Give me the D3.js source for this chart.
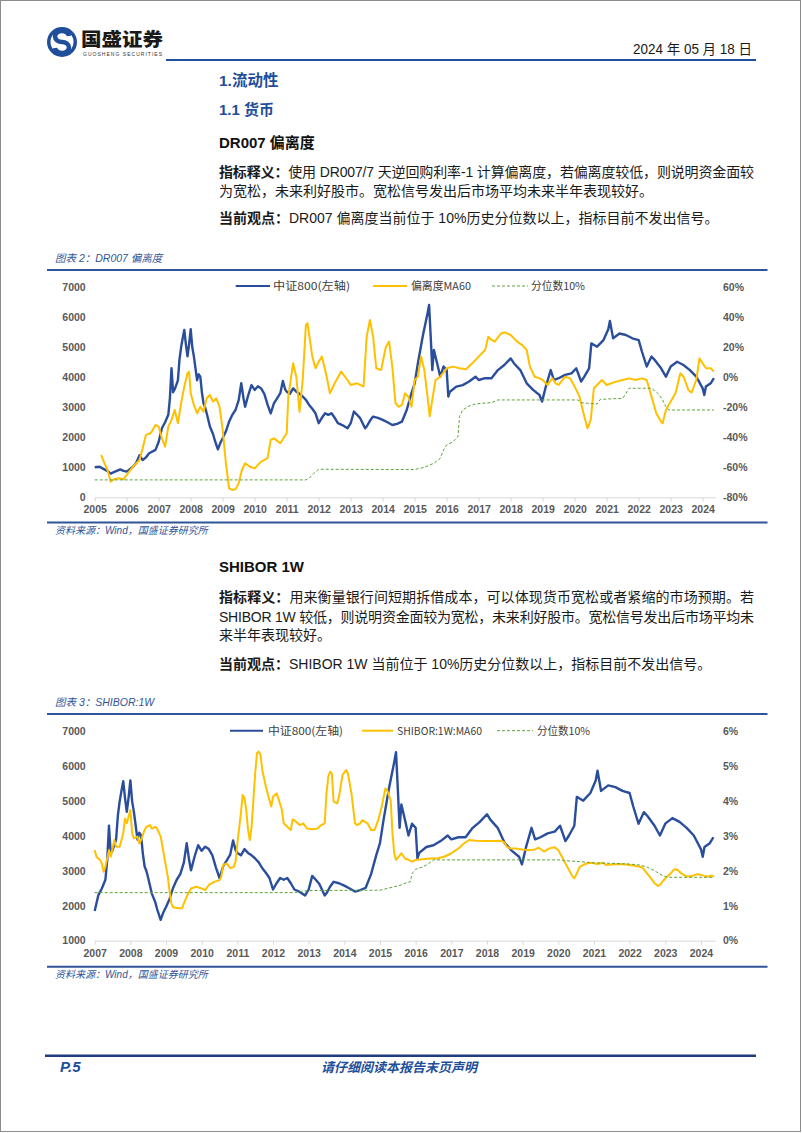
<!DOCTYPE html>
<html>
<head>
<meta charset="utf-8">
<script src="https://cdn.jsdelivr.net/npm/d3@7"></script>
<style>
body { margin: 0; background: #fff; }
svg { display: block; }
</style>
</head>
<body>
<div id="page"></div>
<script>
// 中证800, [year, index]
var csi800 = [[2005.0,1000],[2005.15,1020],[2005.3,930],[2005.42,860],[2005.5,790],[2005.6,840],[2005.8,930],[2005.9,880],[2006.0,855],[2006.2,1020],[2006.3,1150],[2006.4,1400],[2006.5,1240],[2006.6,1330],[2006.7,1470],[2006.9,1580],[2007.0,1850],[2007.1,2300],[2007.2,2500],[2007.3,2750],[2007.35,3300],[2007.4,4300],[2007.45,3500],[2007.5,3600],[2007.6,3900],[2007.65,4600],[2007.7,5000],[2007.75,5300],[2007.8,5580],[2007.85,5100],[2007.9,4700],[2007.95,5100],[2008.0,5600],[2008.05,5000],[2008.1,4690],[2008.15,4300],[2008.2,3900],[2008.25,4100],[2008.3,4020],[2008.35,3500],[2008.4,3130],[2008.45,3000],[2008.5,2800],[2008.6,2360],[2008.7,2100],[2008.75,1910],[2008.85,1600],[2008.92,1800],[2009.0,1970],[2009.1,2200],[2009.2,2520],[2009.3,2750],[2009.4,2910],[2009.5,3240],[2009.58,3800],[2009.65,3300],[2009.7,3020],[2009.8,3410],[2009.9,3740],[2010.0,3580],[2010.1,3700],[2010.2,3630],[2010.3,3450],[2010.4,3100],[2010.5,2800],[2010.6,3130],[2010.7,3300],[2010.8,3470],[2010.88,3880],[2010.95,3600],[2011.0,3520],[2011.1,3450],[2011.2,3630],[2011.3,3520],[2011.4,3450],[2011.5,3360],[2011.6,3250],[2011.7,3080],[2011.8,2950],[2011.9,2800],[2012.0,2470],[2012.1,2650],[2012.2,2800],[2012.3,2750],[2012.4,2800],[2012.5,2650],[2012.6,2470],[2012.75,2400],[2012.9,2300],[2013.0,2470],[2013.1,2860],[2013.2,2750],[2013.3,2630],[2013.45,2300],[2013.5,2360],[2013.6,2550],[2013.7,2690],[2013.85,2650],[2014.0,2580],[2014.15,2500],[2014.3,2410],[2014.45,2450],[2014.6,2520],[2014.75,2910],[2014.9,3470],[2015.0,3800],[2015.1,4470],[2015.25,5360],[2015.4,6130],[2015.45,6410],[2015.5,5360],[2015.55,4240],[2015.6,4910],[2015.7,4470],[2015.8,4020],[2015.9,4360],[2016.0,4240],[2016.05,3360],[2016.1,3520],[2016.3,3690],[2016.5,3740],[2016.7,3860],[2016.9,4020],[2017.0,3910],[2017.2,3970],[2017.4,3970],[2017.6,4240],[2017.8,4410],[2018.0,4630],[2018.1,4470],[2018.3,4240],[2018.5,3800],[2018.7,3580],[2018.9,3410],[2018.98,3190],[2019.1,3700],[2019.25,4240],[2019.35,3910],[2019.5,3970],[2019.7,4080],[2019.9,4130],[2020.05,4300],[2020.2,3860],[2020.3,4020],[2020.45,4300],[2020.52,5130],[2020.7,5020],[2020.9,5240],[2021.05,5600],[2021.1,5880],[2021.2,5300],[2021.4,5460],[2021.6,5410],[2021.8,5300],[2022.0,5240],[2022.1,4860],[2022.25,4360],[2022.4,4690],[2022.5,4580],[2022.7,4300],[2022.85,4020],[2023.0,4360],[2023.2,4520],[2023.4,4410],[2023.6,4240],[2023.8,4020],[2024.0,3630],[2024.05,3410],[2024.1,3690],[2024.25,3800],[2024.35,3970]]

// DR007 偏离度MA60, [year, %]
var devMA60 = [[2005.2,-51.8],[2005.3,-57],[2005.4,-61.8],[2005.5,-69.6],[2005.6,-68],[2005.75,-67.3],[2005.9,-68],[2006.0,-65.1],[2006.2,-59.6],[2006.4,-55.1],[2006.5,-47.3],[2006.6,-38.4],[2006.75,-37.3],[2006.9,-31.8],[2007.0,-32.9],[2007.1,-40.7],[2007.2,-46.2],[2007.3,-32.9],[2007.4,-28.4],[2007.5,-21.8],[2007.6,-30.7],[2007.7,-17.3],[2007.8,-6.2],[2007.9,2.7],[2007.95,3.8],[2008.0,-10.7],[2008.1,-18.4],[2008.2,-24],[2008.3,-19.6],[2008.4,-22.9],[2008.5,-14],[2008.6,-11.8],[2008.7,-16.2],[2008.8,-14],[2008.9,-19.6],[2009.0,-35.1],[2009.1,-57.3],[2009.2,-74],[2009.3,-75.1],[2009.4,-74.7],[2009.5,-70.7],[2009.6,-61.8],[2009.7,-57.3],[2009.85,-59.6],[2010.0,-60.7],[2010.2,-56.2],[2010.4,-54],[2010.5,-41.8],[2010.6,-40.7],[2010.8,-44],[2011.0,-37.3],[2011.05,-12.9],[2011.2,9.3],[2011.3,0.4],[2011.4,-22.9],[2011.5,-1.8],[2011.6,34.9],[2011.65,36],[2011.8,13.8],[2011.9,6],[2012.0,10.4],[2012.1,13.8],[2012.25,0.4],[2012.35,-10.7],[2012.5,-4],[2012.7,3.8],[2012.9,-1.8],[2013.0,-5.1],[2013.2,-4],[2013.4,-6.2],[2013.5,27.1],[2013.6,38.2],[2013.7,27.1],[2013.8,6],[2013.95,4.9],[2014.1,20.4],[2014.2,23.8],[2014.3,7.1],[2014.4,-17.3],[2014.5,-19.6],[2014.6,-18.4],[2014.7,-10.7],[2014.8,-12.9],[2014.9,-19.6],[2015.0,-1.8],[2015.1,0.4],[2015.2,13.8],[2015.3,4.9],[2015.4,-12.9],[2015.47,-26],[2015.55,-15.1],[2015.65,-1.8],[2015.8,0.4],[2016.0,6],[2016.2,7.1],[2016.4,6],[2016.6,5.3],[2016.8,9.3],[2017.0,13.8],[2017.2,18.2],[2017.3,27.1],[2017.4,24.9],[2017.5,23.8],[2017.7,29.3],[2017.8,30],[2018.0,28.2],[2018.2,23.8],[2018.35,21.6],[2018.5,18.2],[2018.6,7.1],[2018.75,0.4],[2018.9,-0.7],[2019.0,-1.8],[2019.15,-5.1],[2019.3,-0.7],[2019.4,-4],[2019.5,-5.1],[2019.7,0.4],[2019.85,-0.7],[2020.0,-6.2],[2020.15,-12.9],[2020.3,-26.2],[2020.4,-34],[2020.5,-28.4],[2020.6,-7.3],[2020.7,-5.1],[2020.85,-1.8],[2021.0,-5.1],[2021.15,-4],[2021.3,-2.9],[2021.5,-1.8],[2021.7,-0.7],[2021.9,-1.8],[2022.1,-0.7],[2022.25,-1.8],[2022.4,-12.9],[2022.55,-24],[2022.7,-29.6],[2022.75,-30.7],[2022.85,-21.8],[2023.0,-16.2],[2023.15,-10.7],[2023.3,2.7],[2023.4,0.4],[2023.55,-8.4],[2023.65,-10.2],[2023.8,-1.8],[2023.9,12.7],[2024.0,9.3],[2024.1,6],[2024.25,6],[2024.35,3.8]]

// 分位数10% (DR007 chart)
var devQ10 = [[2005.0,-68.4],[2011.6,-68.4],[2011.7,-67.3],[2011.85,-64],[2012.0,-61.3],[2015.0,-61.5],[2015.3,-60],[2015.6,-57.3],[2015.8,-54],[2015.9,-48.4],[2016.0,-45.1],[2016.2,-42.9],[2016.35,-39.6],[2016.4,-26.2],[2016.5,-21.8],[2016.7,-19.1],[2016.9,-17.8],[2017.1,-17.3],[2017.4,-16.9],[2017.6,-15.1],[2020.1,-15.1],[2020.2,-16.9],[2020.4,-17.3],[2020.7,-17.8],[2020.8,-14.7],[2021.5,-14],[2021.6,-10.7],[2021.7,-7.3],[2022.4,-7.3],[2022.6,-10.7],[2022.75,-15.1],[2022.85,-19.6],[2022.95,-21.8],[2024.35,-21.8]]

// SHIBOR:1W:MA60, [year, %]
var shiborMA60 = [[2007.0,2.6],[2007.05,2.41],[2007.15,2.32],[2007.2,2.22],[2007.25,1.98],[2007.3,2.12],[2007.4,2.6],[2007.45,2.41],[2007.55,2.89],[2007.6,2.7],[2007.7,2.7],[2007.8,3.08],[2007.85,3.51],[2007.9,3.37],[2008.0,3.75],[2008.05,3.08],[2008.1,2.94],[2008.2,2.99],[2008.25,2.79],[2008.3,2.89],[2008.4,3.18],[2008.45,3.27],[2008.55,3.32],[2008.6,3.22],[2008.7,3.27],[2008.75,3.22],[2008.85,2.99],[2008.95,2.41],[2009.05,1.84],[2009.1,1.41],[2009.15,1.07],[2009.2,0.96],[2009.35,0.93],[2009.45,0.93],[2009.5,1.07],[2009.6,1.31],[2009.7,1.5],[2009.85,1.55],[2010.0,1.5],[2010.1,1.45],[2010.2,1.6],[2010.35,1.69],[2010.5,1.74],[2010.55,1.84],[2010.6,2.17],[2010.7,2.22],[2010.8,2.08],[2010.9,2.12],[2010.95,2.27],[2011.0,2.79],[2011.1,3.66],[2011.15,4.18],[2011.2,4.09],[2011.25,3.75],[2011.3,3.18],[2011.35,2.89],[2011.4,3.27],[2011.45,4.04],[2011.5,4.8],[2011.55,5.38],[2011.6,5.43],[2011.65,5.33],[2011.7,4.9],[2011.8,4.42],[2011.9,4.04],[2011.95,3.85],[2012.0,4.13],[2012.1,4.23],[2012.15,4.09],[2012.25,3.75],[2012.3,3.37],[2012.4,3.27],[2012.5,3.18],[2012.55,3.48],[2012.6,3.46],[2012.75,3.32],[2012.85,3.37],[2012.95,3.22],[2013.1,3.2],[2013.25,3.22],[2013.35,3.32],[2013.45,3.37],[2013.5,4.23],[2013.55,4.71],[2013.6,4.85],[2013.65,4.8],[2013.7,3.99],[2013.8,3.94],[2013.85,4.13],[2013.95,4.76],[2014.05,4.9],[2014.1,4.8],[2014.2,4.23],[2014.3,3.37],[2014.35,3.32],[2014.45,3.37],[2014.5,3.46],[2014.65,3.37],[2014.75,3.18],[2014.85,3.18],[2014.95,3.46],[2015.05,3.85],[2015.15,4.37],[2015.2,4.32],[2015.3,4.04],[2015.35,3.08],[2015.4,2.51],[2015.45,2.32],[2015.6,2.51],[2015.7,2.36],[2015.8,2.32],[2015.9,2.27],[2016.0,2.32],[2016.2,2.34],[2016.4,2.36],[2016.6,2.36],[2016.8,2.41],[2017.0,2.51],[2017.2,2.65],[2017.35,2.79],[2017.5,2.89],[2017.7,2.87],[2018.0,2.86],[2018.2,2.86],[2018.4,2.87],[2018.5,2.81],[2018.55,2.7],[2018.65,2.65],[2018.8,2.65],[2019.0,2.62],[2019.2,2.6],[2019.35,2.62],[2019.45,2.67],[2019.6,2.56],[2019.75,2.65],[2019.9,2.68],[2020.0,2.6],[2020.1,2.41],[2020.2,2.22],[2020.3,2.03],[2020.4,1.84],[2020.45,1.79],[2020.5,1.89],[2020.6,2.12],[2020.75,2.2],[2020.9,2.24],[2021.0,2.22],[2021.1,2.2],[2021.25,2.24],[2021.35,2.17],[2021.5,2.19],[2021.7,2.2],[2021.9,2.19],[2022.1,2.16],[2022.2,2.14],[2022.35,2.11],[2022.45,1.98],[2022.6,1.79],[2022.7,1.65],[2022.8,1.57],[2022.85,1.6],[2023.0,1.79],[2023.15,1.93],[2023.25,2.05],[2023.35,2.03],[2023.45,1.93],[2023.6,1.84],[2023.75,1.86],[2023.9,1.91],[2024.0,1.89],[2024.1,1.86],[2024.2,1.84],[2024.3,1.87],[2024.37,1.84]]

// 分位数10% (SHIBOR chart)
var shiborQ10 = [[2007.0,1.38],[2012.6,1.38],[2012.8,1.42],[2013.0,1.44],[2015.0,1.45],[2015.2,1.5],[2015.4,1.55],[2015.6,1.6],[2015.75,1.67],[2015.85,1.69],[2015.9,1.93],[2016.0,2.05],[2016.2,2.12],[2016.35,2.2],[2016.5,2.32],[2020.0,2.32],[2020.3,2.29],[2020.6,2.27],[2020.9,2.24],[2021.5,2.22],[2022.0,2.2],[2022.3,2.17],[2022.5,2.11],[2022.7,2.01],[2022.85,1.91],[2023.0,1.84],[2023.1,1.82],[2024.37,1.82]]

var years1 = d3.range(2005, 2025)
var years2 = d3.range(2007, 2025)
var leftTicks1 = [0,1000,2000,3000,4000,5000,6000,7000]
var rightTicks1 = [-80,-60,-40,-20,0,20,40,60]
var leftTicks2 = [1000,2000,3000,4000,5000,6000,7000]
var rightTicks2 = [0,1,2,3,4,5,6]

var BLUE = '#2a4e9c'
var GOLD = '#ffc000'
var GREEN = '#5fa33c'
var NAVY = '#1f4e9a'
var CJK = "'Liberation Sans','Noto Sans CJK SC',sans-serif"
var AXF = "'Liberation Sans',sans-serif"

var svg = d3.select('#page').append('svg')
	.attr('width', 802).attr('height', 1133)

// page frame
svg.append('rect').attr('x', 0.5).attr('y', 0.5).attr('width', 800).attr('height', 1131)
	.attr('fill', 'none').attr('stroke', '#8c8c8c')

// header logo
var logo = svg.append('g')
logo.append('circle').attr('cx', 62).attr('cy', 42).attr('r', 15).attr('fill', NAVY)
logo.append('circle').attr('cx', 62).attr('cy', 42).attr('r', 11.5).attr('fill', '#fff')
logo.append('path').attr('d', 'M69,36 A7,5.5 0 1 0 62,42 A7,5.5 0 1 1 55,48')
	.attr('fill', 'none').attr('stroke', NAVY).attr('stroke-width', 4.5)
logo.append('text').attr('x', 81).attr('y', 46).text('国盛证券')
	.attr('font-family', "'Noto Sans CJK SC'").attr('font-weight', 900)
	.attr('font-size', 18.5).attr('fill', '#1a1a1a')
	.attr('textLength', 82).attr('lengthAdjust', 'spacingAndGlyphs')
logo.append('text').attr('x', 83).attr('y', 56).text('GUOSHENG SECURITIES')
	.attr('font-family', AXF).attr('font-size', 5).attr('fill', '#333')
	.attr('textLength', 79)

svg.append('text').attr('x', 752).attr('y', 54).attr('text-anchor', 'end')
	.text('2024 年 05 月 18 日')
	.attr('font-family', CJK).attr('font-size', 14).attr('fill', '#1a1a1a')
	.attr('textLength', 119).attr('lengthAdjust', 'spacingAndGlyphs')

svg.append('line').attr('x1', 166).attr('x2', 756).attr('y1', 60).attr('y2', 60)
	.attr('stroke', NAVY).attr('stroke-width', 2)

function heading(txt, y, color, size) {
	svg.append('text').attr('x', 219).attr('y', y).text(txt)
		.attr('font-family', CJK).attr('font-weight', 'bold')
		.attr('font-size', size).attr('fill', color)
}
heading('1.流动性', 86, NAVY, 15.5)
heading('1.1 货币', 115, NAVY, 15)
heading('DR007 偏离度', 148, '#111', 15)
heading('SHIBOR 1W', 572, '#111', 15)

// body lines: parts [text, bold], full = justified to right margin
function bodyLine(parts, y, full) {
	var t = svg.append('text').attr('x', 219).attr('y', y)
		.attr('font-family', CJK).attr('font-size', 14).attr('fill', '#1a1a1a')
	parts.forEach(function(p) {
		t.append('tspan').text(p[0]).attr('font-weight', p[1] ? 'bold' : 'normal')
	})
	if (full) t.attr('textLength', 535).attr('lengthAdjust', 'spacing')
}
bodyLine([['指标释义：', true], ['使用 DR007/7 天逆回购利率-1 计算偏离度，若偏离度较低，则说明资金面较', false]], 176.5, true)
bodyLine([['为宽松，未来利好股市。宽松信号发出后市场平均未来半年表现较好。', false]], 195.5, false)
bodyLine([['当前观点：', true], ['DR007 偏离度当前位于 10%历史分位数以上，指标目前不发出信号。', false]], 223, false)

bodyLine([['指标释义：', true], ['用来衡量银行间短期拆借成本，可以体现货币宽松或者紧缩的市场预期。若', false]], 602, true)
bodyLine([['SHIBOR 1W 较低，则说明资金面较为宽松，未来利好股市。宽松信号发出后市场平均未', false]], 621.5, true)
bodyLine([['来半年表现较好。', false]], 640, false)
bodyLine([['当前观点：', true], ['SHIBOR 1W 当前位于 10%历史分位数以上，指标目前不发出信号。', false]], 668.5, false)

function smallNote(txt, y, size) {
	svg.append('text').attr('x', 55).attr('y', y).text(txt)
		.attr('font-family', CJK).attr('font-style', 'italic')
		.attr('font-size', size).attr('fill', '#2f5597')
}
smallNote('图表 2：DR007 偏离度', 261.5, 10.5)
smallNote('资料来源：Wind，国盛证券研究所', 533.5, 10)
smallNote('图表 3：SHIBOR:1W', 705.5, 10.5)
smallNote('资料来源：Wind，国盛证券研究所', 977.5, 10)

function drawChart(opt) {
	var g = svg.append('g')
	g.append('line').attr('x1', 47).attr('x2', 767.5).attr('y1', opt.frameTop).attr('y2', opt.frameTop)
		.attr('stroke', '#2f5597').attr('stroke-width', 2)
	g.append('line').attr('x1', 47).attr('x2', 767.5).attr('y1', opt.frameBot).attr('y2', opt.frameBot)
		.attr('stroke', '#2f5597').attr('stroke-width', 2)

	var x = d3.scaleLinear().domain(opt.xDomain).range([94.7, 94.7 + (opt.xDomain[1] - opt.xDomain[0]) * opt.pxYear])
	var yL = d3.scaleLinear().domain(opt.leftDomain).range([opt.yBot, opt.yTop])
	var yR = d3.scaleLinear().domain(opt.rightDomain).range([opt.yBot, opt.yTop])

	var ax = g.append('g').attr('transform', 'translate(0,' + opt.yBot + ')')
		.call(d3.axisBottom(x).tickValues(opt.years).tickFormat(d3.format('d'))
			.tickSize(4).tickSizeOuter(0).tickPadding(4.5))
	ax.select('.domain').attr('stroke', '#d9d9d9')
	ax.selectAll('.tick line').attr('stroke', '#d9d9d9')
	ax.selectAll('.tick text').attr('font-family', AXF).attr('font-weight', 'bold')
		.attr('font-size', 10.5).attr('fill', '#595959')

	g.selectAll('.lt').data(opt.leftTicks).enter().append('text')
		.attr('x', 85.7).attr('y', function(d) { return yL(d) }).attr('dy', '0.36em')
		.attr('text-anchor', 'end').text(function(d) { return d })
		.attr('font-family', AXF).attr('font-weight', 'bold').attr('font-size', 10.5).attr('fill', '#595959')
	g.selectAll('.rt').data(opt.rightTicks).enter().append('text')
		.attr('x', 723).attr('y', function(d) { return yR(d) }).attr('dy', '0.36em')
		.text(function(d) { return d + '%' })
		.attr('font-family', AXF).attr('font-weight', 'bold').attr('font-size', 10.5).attr('fill', '#595959')

	var lineL = d3.line().x(function(d) { return x(d[0]) }).y(function(d) { return yL(d[1]) })
	var lineR = d3.line().x(function(d) { return x(d[0]) }).y(function(d) { return yR(d[1]) })

	g.append('path').datum(opt.blue).attr('d', lineL)
		.attr('fill', 'none').attr('stroke', BLUE).attr('stroke-width', 2.4).attr('stroke-linejoin', 'round')
	g.append('path').datum(opt.gold).attr('d', lineR)
		.attr('fill', 'none').attr('stroke', GOLD).attr('stroke-width', 2).attr('stroke-linejoin', 'round')
	g.append('path').datum(opt.green).attr('d', lineR)
		.attr('fill', 'none').attr('stroke', GREEN).attr('stroke-width', 1).attr('stroke-dasharray', '3,2')

	// legend
	var ly = opt.legendY
	opt.legend.forEach(function(l) {
		var seg = g.append('line').attr('x1', l.x1).attr('x2', l.x2).attr('y1', ly).attr('y2', ly)
			.attr('stroke', l.color).attr('stroke-width', l.dash ? 1 : 2)
		if (l.dash) seg.attr('stroke-dasharray', '3,2')
		g.append('text').attr('x', l.tx).attr('y', ly).attr('dy', '0.36em').text(l.label)
			.attr('font-family', "'Noto Sans CJK SC'").attr('font-size', 11).attr('fill', '#404040')
			.attr('textLength', l.tw).attr('lengthAdjust', 'spacingAndGlyphs')
	})
}

drawChart({
	frameTop: 270, frameBot: 522.5,
	xDomain: [2005, 2024.4], pxYear: 32, years: years1,
	yTop: 287.3, yBot: 497.3,
	leftDomain: [0, 7000], rightDomain: [-80, 60],
	leftTicks: leftTicks1, rightTicks: rightTicks1,
	blue: csi800, gold: devMA60, green: devQ10,
	legendY: 286,
	legend: [
		{ x1: 235.7, x2: 270, tx: 273, tw: 77, label: '中证800(左轴)', color: BLUE },
		{ x1: 373, x2: 407, tx: 411, tw: 60, label: '偏离度MA60', color: GOLD },
		{ x1: 492, x2: 528, tx: 531, tw: 54, label: '分位数10%', color: GREEN, dash: true }
	]
})

drawChart({
	frameTop: 714, frameBot: 966.7,
	xDomain: [2007, 2024.4], pxYear: 35.66, years: years2,
	yTop: 731.7, yBot: 940.7,
	leftDomain: [1000, 7000], rightDomain: [0, 6],
	leftTicks: leftTicks2, rightTicks: rightTicks2,
	blue: csi800.filter(function(d) { return d[0] >= 2007 }), gold: shiborMA60, green: shiborQ10,
	legendY: 730.7,
	legend: [
		{ x1: 230, x2: 263, tx: 268, tw: 75, label: '中证800(左轴)', color: BLUE },
		{ x1: 362, x2: 393, tx: 397, tw: 85, label: 'SHIBOR:1W:MA60', color: GOLD },
		{ x1: 497, x2: 533, tx: 537, tw: 53, label: '分位数10%', color: GREEN, dash: true }
	]
})

// footer
svg.append('line').attr('x1', 45).attr('x2', 756).attr('y1', 1055.7).attr('y2', 1055.7)
	.attr('stroke', '#1f3d7a').attr('stroke-width', 2.5)
svg.append('text').attr('x', 60).attr('y', 1072).text('P.5')
	.attr('font-family', AXF).attr('font-weight', 'bold').attr('font-style', 'italic')
	.attr('font-size', 15).attr('fill', NAVY)
svg.append('text').attr('x', 399).attr('y', 1071.5).attr('text-anchor', 'middle').text('请仔细阅读本报告末页声明')
	.attr('font-family', "'Noto Sans CJK SC'").attr('font-weight', 'bold').attr('font-style', 'italic')
	.attr('font-size', 13).attr('fill', NAVY)
</script>
</body>
</html>
